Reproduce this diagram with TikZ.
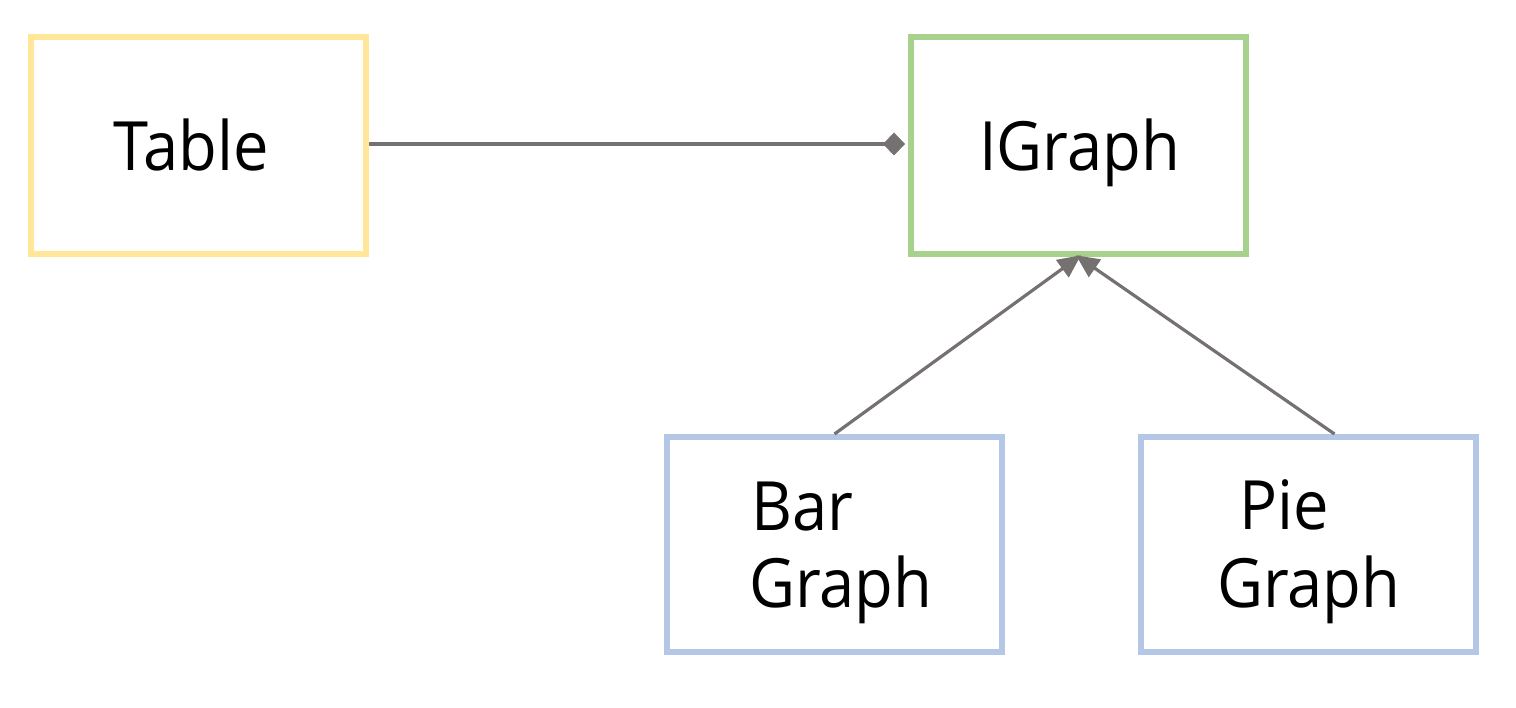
\documentclass[tikz,border=0pt]{standalone}
\usepackage{fontspec}
\setmainfont{Open Sans}[FakeStretch=0.93]
\usetikzlibrary{arrows.meta,calc}
\definecolor{boxyellow}{HTML}{FFE699}
\definecolor{boxgreen}{HTML}{A9D18E}
\definecolor{boxblue}{HTML}{B4C7E7}
\definecolor{linkgray}{HTML}{767171}
\tikzset{
  classbox/.style={draw, line width=6pt, minimum width=335pt, minimum height=217pt, inner sep=0pt},
  boxtext/.style={anchor=base west, inner sep=0pt, font=\fontsize{68}{80}\selectfont},
  link/.style={draw=linkgray, line width=3.2pt},
}
\begin{document}
\begin{tikzpicture}[x=1pt,y=-1pt]
\useasboundingbox (0,0) rectangle (1516,708);
\node[classbox, draw=boxyellow] (table) at (198.5,145.5) {};
\node[classbox, draw=boxgreen] (igraph) at (1078.5,145.5) {};
\node[classbox, draw=boxblue, minimum height=215pt] (bar) at (834.5,544.5) {};
\node[classbox, draw=boxblue, minimum height=215pt] (pie) at (1308.5,544.5) {};
\node[boxtext] (tabletext) at (113,171) {Table};
\node[boxtext] (igraphtext) at (979,171) {IGraph};
\node[boxtext] (bartext1) at (751,530) {Bar};
\node[boxtext] (bartext2) at (749,607) {Graph};
\node[boxtext] (pietext1) at (1239,529) {Pie};
\node[boxtext] (pietext2) at (1217,607) {Graph};
\coordinate (tableout) at ($(table.east)+(0,-1.5)$);
\coordinate (igraphin) at ($(igraph.west)+(0,-1.5)$);
\coordinate (pieup) at ($(pie.north)+(26,0)$);
\draw[link, -{Diamond[length=22pt,width=23pt,fill=linkgray]}, shorten >=3pt] (tableout) -- (igraphin);
\draw[link, -{Triangle[length=23pt,width=21pt,fill=linkgray]}, shorten >=-3pt] (bar.north) -- (igraph.south);
\draw[link, -{Triangle[length=23pt,width=21pt,fill=linkgray]}, shorten >=-3pt] (pieup) -- (igraph.south);
\end{tikzpicture}
\end{document}
